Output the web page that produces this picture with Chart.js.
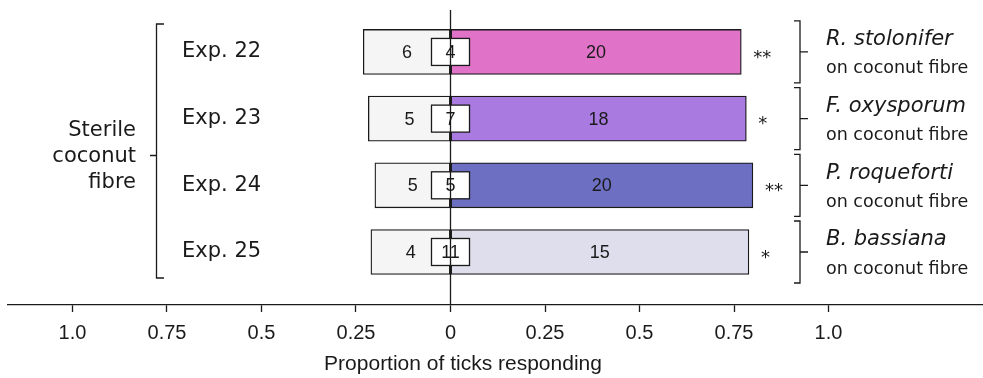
<!DOCTYPE html>
<html>
<head>
<meta charset="utf-8">
<script src="https://cdn.jsdelivr.net/npm/chart.js@4/dist/chart.umd.min.js"></script>
<style>
  html, body { margin: 0; padding: 0; background: #ffffff; }
  #wrap { position: relative; width: 983px; height: 378px; }
</style>
</head>
<body>
<div id="wrap"><canvas id="chart" width="983" height="378"></canvas></div>
<script>
// Choice-test results: ticks choosing the control side, the treated side, or no side
const experiments = ['Exp. 22', 'Exp. 23', 'Exp. 24', 'Exp. 25'];
const controlCounts = [6, 5, 5, 4];
const treatedCounts = [20, 18, 20, 15];
const noChoiceCounts = [4, 7, 5, 11];
const significance = ['**', '*', '**', '*'];
const fungi = ['R. stolonifer', 'F. oxysporum', 'P. roqueforti', 'B. bassiana'];
const substrateNote = 'on coconut fibre';
const groupLabel = ['Sterile', 'coconut', 'fibre'];
const xTickValues = [-1, -0.75, -0.5, -0.25, 0, 0.25, 0.5, 0.75, 1];
const xTickLabels = ['1.0', '0.75', '0.5', '0.25', '0', '0.25', '0.5', '0.75', '1.0'];
const treatedColors = ['#e073c8', '#a97ae0', '#6d6fc3', '#dedeed'];
const controlColor = '#f5f5f5';

// proportions of responding ticks (control drawn to the left)
const controlProp = controlCounts.map((c, i) => -c / (c + treatedCounts[i]));
const treatedProp = treatedCounts.map((t, i) => t / (controlCounts[i] + t));

const INK = '#1a1a1a';
const SANS = '"DejaVu Sans", Verdana, sans-serif';
const ARIAL = '"Liberation Sans", Arial, sans-serif';

const annotations = {
  id: 'annotations',
  afterDatasetsDraw(chart) {
    const ctx = chart.ctx;
    const xs = chart.scales.x, ys = chart.scales.y;
    const area = chart.chartArea;
    const x0 = xs.getPixelForValue(0);
    ctx.save();
    ctx.strokeStyle = INK;
    ctx.fillStyle = INK;
    ctx.lineWidth = 1.3;

    experiments.forEach((name, i) => {
      const yc = ys.getPixelForValue(i);
      const xl = xs.getPixelForValue(controlProp[i]);
      const xr = xs.getPixelForValue(treatedProp[i]);

      // counts inside the bars
      ctx.font = '18px ' + ARIAL;
      ctx.textAlign = 'center';
      ctx.textBaseline = 'middle';
      ctx.fillStyle = INK;
      ctx.fillText(String(controlCounts[i]), (xl + x0) / 2, yc + 1);
      ctx.fillText(String(treatedCounts[i]), (xr + x0) / 2, yc + 1);

      // no-choice box on the zero line
      ctx.fillStyle = '#ffffff';
      ctx.fillRect(x0 - 19, yc - 13.5, 38, 27);
      ctx.strokeRect(x0 - 19, yc - 13.5, 38, 27);
      ctx.fillStyle = INK;
      ctx.fillText(String(noChoiceCounts[i]), x0, yc + 1);

      // significance stars
      ctx.textAlign = 'left';
      ctx.font = '18px ' + SANS;
      ctx.fillText(significance[i], xr + 12, yc + 6);

      // experiment label
      ctx.font = '21px ' + SANS;
      ctx.fillText(name, 182, yc);

      // right-hand bracket with species
      ctx.beginPath();
      ctx.moveTo(794, yc - 31); ctx.lineTo(800, yc - 31);
      ctx.lineTo(800, yc + 31); ctx.lineTo(794, yc + 31);
      ctx.moveTo(800, yc); ctx.lineTo(808, yc);
      ctx.stroke();
      ctx.font = 'italic 21px ' + SANS;
      ctx.fillText(fungi[i], 826, yc - 12);
      ctx.font = '17.5px ' + SANS;
      ctx.fillText(substrateNote, 826, yc + 17);
    });

    // zero line across the plot
    ctx.beginPath();
    ctx.moveTo(x0, area.top);
    ctx.lineTo(x0, area.bottom);
    ctx.stroke();

    // left grouping bracket
    ctx.beginPath();
    ctx.moveTo(164, 24); ctx.lineTo(156.5, 24);
    ctx.lineTo(156.5, 278); ctx.lineTo(164, 278);
    ctx.moveTo(156.5, 155.5); ctx.lineTo(150, 155.5);
    ctx.stroke();
    ctx.font = '21px ' + SANS;
    ctx.textAlign = 'right';
    ctx.textBaseline = 'middle';
    groupLabel.forEach((t, k) => ctx.fillText(t, 136, 131 + k * 26));

    // axis title
    ctx.font = '21px ' + ARIAL;
    ctx.textAlign = 'center';
    ctx.fillText('Proportion of ticks responding', 463, 364);
    ctx.restore();
  }
};

new Chart(document.getElementById('chart'), {
  type: 'bar',
  data: {
    datasets: [
      {
        label: 'Control',
        data: controlProp.map((v, i) => ({ x: [v, 0], y: i })),
        backgroundColor: controlColor,
        borderColor: INK,
        borderWidth: 1.3,
        borderSkipped: false,
        barThickness: 45,
        grouped: false
      },
      {
        label: 'Treated',
        data: treatedProp.map((v, i) => ({ x: [0, v], y: i })),
        backgroundColor: treatedColors,
        borderColor: INK,
        borderWidth: 1.3,
        borderSkipped: false,
        barThickness: 45,
        grouped: false
      }
    ]
  },
  options: {
    indexAxis: 'y',
    responsive: false,
    animation: false,
    layout: { padding: { left: 8, right: 0, top: 10, bottom: 0 } },
    plugins: { legend: { display: false }, tooltip: { enabled: false } },
    scales: {
      y: {
        type: 'linear',
        reverse: true,
        offset: false,
        min: -0.629,
        max: 3.795,
        display: false
      },
      x: {
        type: 'linear',
        position: 'bottom',
        min: -1.1706,
        max: 1.4087,
        afterBuildTicks: s => { s.ticks = xTickValues.map(v => ({ value: v })); },
        afterFit: s => { s.height = 73; },
        ticks: {
          autoSkip: false,
          maxRotation: 0,
          padding: 9,
          color: INK,
          font: { family: ARIAL, size: 20 },
          callback: (v, i) => xTickLabels[i]
        },
        grid: { drawOnChartArea: false, drawTicks: true, tickLength: 7, tickColor: INK, tickWidth: 1.3 },
        border: { display: true, color: INK, width: 1.3 }
      }
    }
  },
  plugins: [annotations]
});
</script>
</body>
</html>
